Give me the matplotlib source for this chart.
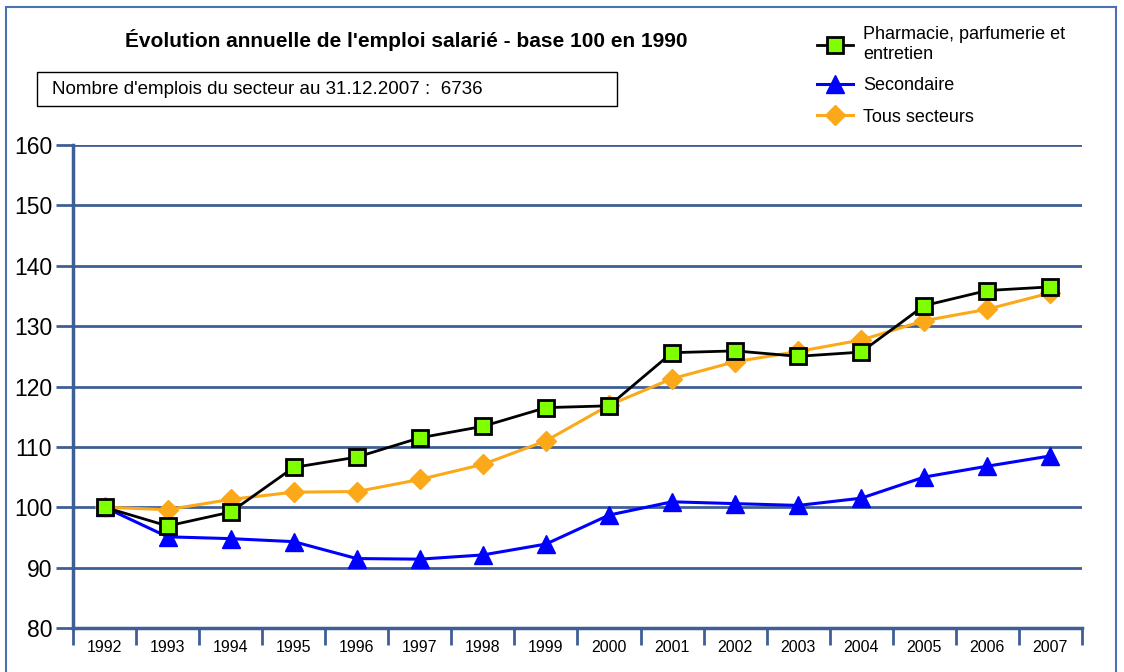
import numpy as np
import matplotlib.pyplot as plt
from matplotlib.patches import Rectangle

plt.rcParams['font.family'] = ['Liberation Sans', 'DejaVu Sans']

# --- données ---
annees = [str(a) for a in range(1992, 2008)]
pharmacie = [100.0, 96.9, 99.2, 106.6, 108.3, 111.5, 113.4, 116.5, 116.8,
             125.6, 125.9, 125.0, 125.7, 133.4, 135.9, 136.5]
secondaire = [100.0, 95.1, 94.8, 94.3, 91.5, 91.4, 92.1, 93.9, 98.7,
              100.9, 100.6, 100.3, 101.5, 105.0, 106.8, 108.5]
tous_secteurs = [100.0, 99.6, 101.3, 102.5, 102.6, 104.6, 107.1, 111.0, 116.9,
                 121.3, 124.1, 125.8, 127.7, 130.9, 132.8, 135.5]
y_ticks = [80, 90, 100, 110, 120, 130, 140, 150, 160]

bleu_axe = '#3E5F96'

fig = plt.figure(figsize=(11.24, 6.72), dpi=100)
fig.patches.append(Rectangle((0.005, -0.01), 0.988, 1.0, transform=fig.transFigure,
                             fill=False, edgecolor='#4A72B0', linewidth=1.5))

ax = fig.add_axes([0.065, 0.0655, 0.8975, 0.7187])
x = np.arange(len(annees))

ax.plot(x, secondaire, color='#0000FF', lw=2.2, marker='^', ms=13,
        mfc='#0000FF', mec='#0000FF', label='Secondaire', zorder=3)
ax.plot(x, tous_secteurs, color='#FBA919', lw=2.2, marker='D', ms=10,
        mfc='#FBA919', mec='#FBA919', label='Tous secteurs', zorder=4)
ax.plot(x, pharmacie, color='black', lw=2, marker='s', ms=11,
        mfc='#7FFF00', mec='black', mew=2,
        label='Pharmacie, parfumerie et\nentretien', zorder=5)

ax.set_xlim(-0.5, len(annees) - 0.5)
ax.set_ylim(80, 160)
ax.set_yticks(y_ticks)
ax.tick_params(axis='y', labelsize=16.5, length=12, width=2, color=bleu_axe, pad=3)
ax.set_xticks(np.arange(-0.5, len(annees)), labels=[])
ax.set_xticks(x, labels=annees, minor=True)
ax.tick_params(axis='x', which='major', length=12, width=2, color=bleu_axe)
ax.tick_params(axis='x', which='minor', length=0, labelsize=11.5, pad=9)

ax.grid(axis='y', color=bleu_axe, lw=2)
ax.set_axisbelow(True)
for s in ['top', 'right']:
    ax.spines[s].set_visible(False)
for s in ['left', 'bottom']:
    ax.spines[s].set_color(bleu_axe)
    ax.spines[s].set_linewidth(2.5)

# titre et encadré
fig.text(0.361, 0.941, "Évolution annuelle de l'emploi salarié - base 100 en 1990",
         ha='center', va='center', fontsize=15, fontweight='bold')
fig.patches.append(Rectangle((0.033, 0.842), 0.516, 0.0506, transform=fig.transFigure,
                             fill=False, edgecolor='black', linewidth=1))
fig.text(0.046, 0.8673, "Nombre d'emplois du secteur au 31.12.2007 :  6736",
         ha='left', va='center', fontsize=13.5)

# légende
h, l = ax.get_legend_handles_labels()
ordre = [2, 0, 1]
fig.legend([h[i] for i in ordre], [l[i] for i in ordre], loc='upper left',
           bbox_to_anchor=(0.712, 0.985), frameon=False, fontsize=13,
           handlelength=2.0, labelspacing=0.8, handletextpad=0.6)

plt.savefig('out.png', dpi=100)
